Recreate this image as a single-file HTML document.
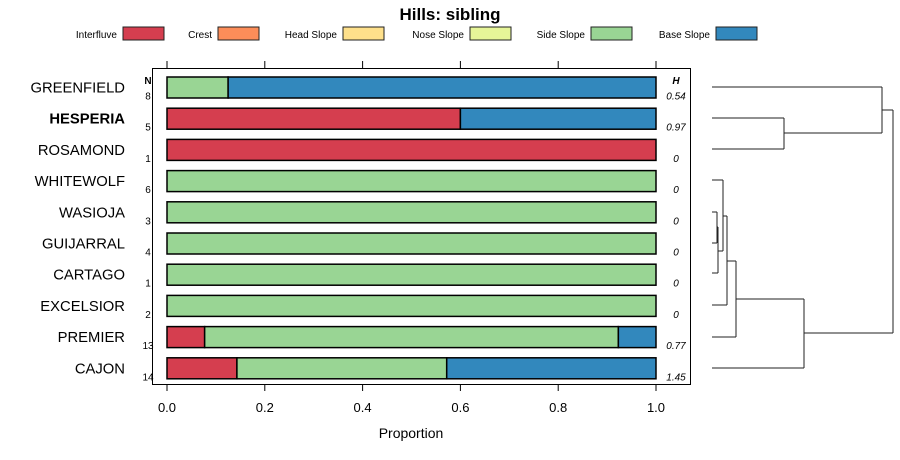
<!DOCTYPE html>
<html><head><meta charset="utf-8"><style>
body{margin:0;background:#fff;}
svg{display:block;font-family:"Liberation Sans",sans-serif;}
</style></head><body>
<svg id="c" width="900" height="460" xmlns="http://www.w3.org/2000/svg"></svg>
<script>
const names=["GREENFIELD","HESPERIA","ROSAMOND","WHITEWOLF","WASIOJA","GUIJARRAL","CARTAGO","EXCELSIOR","PREMIER","CAJON"];
const nVals=[8,5,1,6,3,4,1,2,13,14];
const hVals=["0.54","0.97","0","0","0","0","0","0","0.77","1.45"];
const classes=["Interfluve","Crest","Head Slope","Nose Slope","Side Slope","Base Slope"];
const colors=["#D53E4F","#FC8D59","#FEE08B","#E6F598","#99D594","#3288BD"];
const interfluve=[0,0.6,1,0,0,0,0,0,0.077,0.143];
const crest=[0,0,0,0,0,0,0,0,0,0];
const headSlope=[0,0,0,0,0,0,0,0,0,0];
const noseSlope=[0,0,0,0,0,0,0,0,0,0];
const sideSlope=[0.125,0,0,1,1,1,1,1,0.846,0.429];
const baseSlope=[0.875,0.4,0,0,0,0,0,0,0.077,0.428];
const ticks=[0,0.2,0.4,0.6,0.8,1.0];
const series=[interfluve,crest,headSlope,noseSlope,sideSlope,baseSlope];
const svg=document.getElementById('c');
const NS="http://www.w3.org/2000/svg";
function mk(t,a,txt){const e=document.createElementNS(NS,t);for(const k in a)e.setAttribute(k,a[k]);if(txt!=null)e.textContent=txt;svg.appendChild(e);return e;}
const x=v=>167+v*489;
const y=i=>87.5+i*31.2;
let e=mk('text',{x:450,y:20,'text-anchor':'middle','font-size':17,'font-weight':'bold'},'Hills: sibling');


const legX=[123,218,343,470,591,716];
classes.forEach((c,k)=>{
  e=mk('text',{x:legX[k]-6,y:38,'text-anchor':'end','font-size':10},c);
  
  
  e=mk('rect',{x:legX[k],y:27,width:41,height:13,fill:colors[k],stroke:'#222','stroke-width':1});
  
  
});
e=mk('rect',{x:152.5,y:68.5,width:538,height:316,fill:'none',stroke:'#000','stroke-width':1});


ticks.forEach(t=>{
  mk('line',{x1:x(t),x2:x(t),y1:384,y2:391,stroke:'#000'});
  mk('line',{x1:x(t),x2:x(t),y1:61,y2:68,stroke:'#000'});
  e=mk('text',{x:x(t),y:412,'text-anchor':'middle','font-size':13},t.toFixed(1));
  
  
});
e=mk('text',{x:411,y:438,'text-anchor':'middle','font-size':14},'Proportion');


mk('text',{x:148,y:84,'text-anchor':'middle','font-size':10,'font-weight':'bold'},'N');
mk('text',{x:676,y:84,'text-anchor':'middle','font-size':10,'font-weight':'bold','font-style':'italic'},'H');
names.forEach((n,i)=>{
  const cy=y(i);
  e=mk('text',{x:125,y:cy+5,'text-anchor':'end','font-size':14.8,'font-weight':i==1?'bold':'normal'},n);
  
  
  e=mk('text',{x:148,y:cy+12,'text-anchor':'middle','font-size':10},nVals[i]);
  
  
  e=mk('text',{x:676,y:cy+12,'text-anchor':'middle','font-size':10,'font-style':'italic'},hVals[i]);
  
  
  let acc=0;
  series.forEach((s,k)=>{
    const v=s[i];if(v<=0)return;
    e=mk('rect',{x:x(acc),y:cy-10.5,width:x(acc+v)-x(acc),height:21,fill:colors[k],stroke:'#000','stroke-width':1.5});
    
    
    acc+=v;
  });
});
const dp=[[712,87,882,87],[712,118,784,118],[712,149,784,149],[784,118,784,149],[784,133,882,133],[882,87,882,133],[882,110,893,110],
[712,180,723,180],[712,212,717,212],[712,243,717,243],[717,212,717,243],[717,227,718,227],[712,273,718,273],[718,227,718,273],[718,251,723,251],[723,180,723,251],
[723,216,727,216],[712,305,727,305],[727,216,727,305],[727,261,736,261],[712,337,736,337],[736,261,736,337],[736,299,804,299],[712,368,804,368],[804,299,804,368],[804,333,893,333],[893,110,893,333]];
const g=document.createElementNS(NS,'g');svg.appendChild(g);
dp.forEach(p=>{const l=document.createElementNS(NS,'line');l.setAttribute('x1',p[0]);l.setAttribute('y1',p[1]);l.setAttribute('x2',p[2]);l.setAttribute('y2',p[3]);l.setAttribute('stroke','#222');g.appendChild(l);});
</script>
</body></html>
